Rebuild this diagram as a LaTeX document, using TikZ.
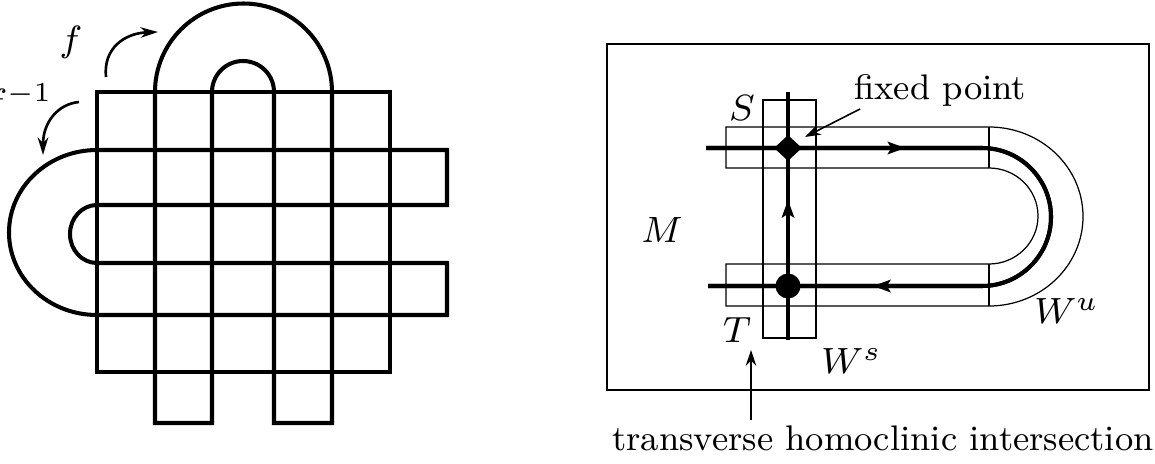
\documentclass[tikz,border=0pt]{standalone}
\usepackage{graphicx}
\usepackage{tikz}
\usetikzlibrary{arrows.meta, shapes.geometric, decorations.markings}

% labels are set small and blown up, as in the scanned figure
\newcommand{\bigtext}[1]{\scalebox{2.6}{#1}}
\newcommand{\bigword}[1]{\scalebox{2.25}{\fontsize{9}{11}\selectfont #1}}

\begin{document}
\begin{tikzpicture}[
  x=0.02cm, y=-0.02cm,
  band/.style={draw=black, line width=2.3pt},
  strip/.style={draw=black, line width=0.7pt},
  frame/.style={draw=black, line width=1pt},
  manif/.style={draw=black, line width=2.3pt},
  curl/.style={-{Stealth[length=10pt, width=6pt]}, line width=1.5pt},
  arr/.style={-{Stealth[length=9pt, width=6pt]}, line width=0.9pt},
  lbl/.style={font=\fontsize{8}{10}\selectfont, inner sep=0pt},
  fix/.style={diamond, fill=black, inner sep=0pt, minimum width=0.56cm, minimum height=0.52cm},
  hom/.style={circle, fill=black, inner sep=0pt, minimum size=0.5cm},
  flow/.style={postaction={decorate}, decoration={markings,
      mark=at position #1 with {\arrow{Stealth[length=10pt, width=7pt, inset=2pt]}}}}
]
  \useasboundingbox (0,0) rectangle (1155,463);

  % left: square and its two horseshoe images
  \draw[band] (97,92) rectangle (390,372);
  \draw[band] (212,423) -- (155,423) -- (155,92) arc[start angle=180, end angle=360, radius=88.5]
    -- (332,423) -- (274,423) -- (274,92) arc[start angle=360, end angle=180, radius=31] -- cycle;
  \draw[band] (447,205) -- (447,150) -- (97,150) arc[start angle=270, end angle=90, x radius=88, y radius=82.5]
    -- (447,315) -- (447,263) -- (97,263) arc[start angle=90, end angle=270, x radius=27, y radius=29] -- cycle;

  \coordinate (ftail) at (106,77);
  \coordinate (fhead) at (158,32);
  \draw[curl] (ftail) .. controls (103,48) and (125,33) .. (fhead);
  \node[lbl] (flbl) at (71,42) {\bigtext{$f$}};
  \coordinate (gtail) at (79,102);
  \coordinate (ghead) at (43,155);
  \draw[curl] (gtail) .. controls (58,104) and (43,122) .. (ghead);
  \node[lbl, anchor=east] (ginv) at (53,103) {\bigtext{$f^{-1}$}};

  % right: manifold M with the two strips
  \draw[frame] (607,44) rectangle (1149,390);
  \draw[strip] (763,100) rectangle (816,338);
  \draw[strip] (989,168) -- (726,168) -- (726,127) -- (989,127) arc[start angle=270, end angle=450, x radius=94, y radius=89.5]
    -- (726,306) -- (726,264) -- (989,264) arc[start angle=90, end angle=-90, x radius=49, y radius=48] -- cycle;
  \draw[strip] (989,127) -- (989,168) (989,264) -- (989,306);

  \draw[manif, flow=0.26] (706,148) -- (982,148) arc[start angle=270, end angle=450, radius=69] -- (708,286);
  \draw[manif, flow=0.785] (706,148) -- (982,148) arc[start angle=270, end angle=450, radius=69] -- (708,286);
  \draw[manif, flow=0.565] (788,340) -- (788,92);

  \node[fix] (fp) at (788,148) {};
  \node[hom] (hp) at (788,286) {};

  \node[lbl] (mlbl) at (662,230) {\bigtext{$M$}};
  \node[lbl] (slbl) at (742,108) {\bigtext{$S$}};
  \node[lbl] (tlbl) at (737,330) {\bigtext{$T$}};
  \node[lbl, anchor=base west] (ws) at (821,373) {\bigtext{$W^s$}};
  \node[lbl, anchor=base west] (wu) at (1034,323) {\bigtext{$W^u$}};

  \node[lbl, anchor=base west] (fixlbl) at (854,99) {\bigword{fixed point}};
  \coordinate (fptail) at (860,109);
  \coordinate (fptip) at (805,137);
  \draw[arr] (fptail) -- (fptip);

  \node[lbl, anchor=base west] (trlbl) at (612,450) {\bigword{transverse homoclinic intersection}};
  \coordinate (trtail) at (751,420);
  \coordinate (trtip) at (751,350);
  \draw[arr] (trtail) -- (trtip);
\end{tikzpicture}
\end{document}
